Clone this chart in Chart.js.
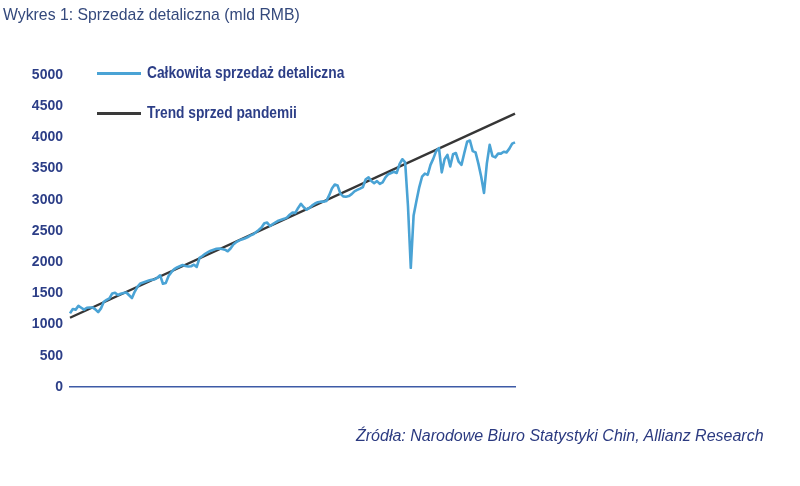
<!DOCTYPE html>
<html lang="pl">
<head>
<meta charset="utf-8">
<title>Sprzedaż detaliczna</title>
<script src="https://cdn.jsdelivr.net/npm/chart.js@4/dist/chart.umd.min.js"></script>
<style>
  body { margin: 0; background: #fff; }
  #wrap { position: relative; width: 800px; height: 486px; overflow: hidden; }
  #chart { position: absolute; left: 0; top: 0; }
  .title {
    position: absolute; left: 3px; top: 5px;
    font: 17px "Liberation Sans", Arial, sans-serif;
    color: #34497c;
    transform: scaleX(0.93); transform-origin: left top; white-space: nowrap;
  }
  .legend { position: absolute; left: 97px; font: bold 16px "Liberation Sans", Arial, sans-serif; color: #2c3e87; white-space: nowrap; }
  .legend span.swatch { display: inline-block; width: 44px; height: 3px; vertical-align: middle; margin-right: 6px; }
  .legend span.txt { display: inline-block; transform: scaleX(0.86); transform-origin: left center; }
  .source {
    position: absolute; left: 356px; top: 427px;
    font: italic 16px "Liberation Sans", Arial, sans-serif;
    color: #2b3a80;
  }
</style>
</head>
<body>
<div id="wrap">
  <canvas id="chart" width="800" height="486"></canvas>
  <div class="title">Wykres 1: Sprzedaż detaliczna (mld RMB)</div>
  <div class="legend" style="top:64px"><span class="swatch" style="background:#4aa3d5"></span><span class="txt">Całkowita sprzedaż detaliczna</span></div>
  <div class="legend" style="top:104px"><span class="swatch" style="background:#3a3a3a"></span><span class="txt">Trend sprzed pandemii</span></div>
  <div class="source">Źródła: Narodowe Biuro Statystyki Chin, Allianz Research</div>
</div>
<script>
// monthly, Jan 2010 - Mar 2023
const months = [];
for (let y = 2010; y <= 2023; y++) {
  for (let m = 1; m <= 12; m++) {
    if (y === 2023 && m > 3) break;
    months.push(y + "-" + String(m).padStart(2, "0"));
  }
}

// mld RMB
const retailSales = [
  1180, 1250, 1240, 1300, 1270, 1240, 1270, 1275, 1275, 1245, 1200, 1260,
  1365, 1395, 1420, 1500, 1510, 1475, 1495, 1505, 1515, 1470, 1425, 1530,
  1610, 1660, 1675, 1690, 1705, 1718, 1724, 1750, 1790, 1655, 1665, 1780,
  1840, 1890, 1915, 1935, 1955, 1940, 1930, 1935, 1960, 1925, 2070, 2100,
  2135, 2160, 2185, 2200, 2215, 2220, 2210, 2200, 2175, 2220, 2285, 2320,
  2345, 2365, 2380, 2400, 2425, 2445, 2480, 2515, 2555, 2625, 2634, 2580,
  2610, 2640, 2665, 2680, 2695, 2715, 2760, 2795, 2790, 2870, 2935, 2880,
  2840, 2870, 2910, 2940, 2960, 2970, 2970, 2980, 3070, 3180, 3245, 3230,
  3100, 3055, 3050, 3060, 3090, 3135, 3158, 3180, 3205, 3330, 3360, 3300,
  3265, 3300, 3255, 3280, 3360, 3410, 3430, 3450, 3430, 3570, 3650, 3600,
  2900, 1910, 2750, 2980, 3200, 3370, 3420, 3400, 3560, 3660, 3780, 3830,
  3440, 3650, 3720, 3535, 3730, 3750, 3610, 3560, 3750, 3930, 3950, 3780,
  3760, 3580, 3370, 3110, 3580, 3880, 3700, 3680, 3740, 3740, 3770, 3760,
  3820, 3900, 3920
];

// straight pre-pandemic trend: start and end values
const trendStart = 1110;
const trendEnd = 4380;

const yTicks = [0, 500, 1000, 1500, 2000, 2500, 3000, 3500, 4000, 4500, 5000];

const navy = "#2c3e87";

new Chart(document.getElementById("chart"), {
  type: "line",
  data: {
    labels: months,
    datasets: [
      {
        label: "Całkowita sprzedaż detaliczna",
        data: retailSales,
        borderColor: "#4aa3d5",
        borderWidth: 2.6,
        pointRadius: 0,
        tension: 0,
        borderJoinStyle: "round",
        order: 1,
      },
      {
        label: "Trend sprzed pandemii",
        data: [
          { x: months[0], y: trendStart },
          { x: months[months.length - 1], y: trendEnd },
        ],
        borderColor: "#363636",
        borderWidth: 2.4,
        pointRadius: 0,
        order: 2,
      },
    ],
  },
  options: {
    responsive: false,
    animation: false,
    layout: { padding: { top: 75, bottom: 99, left: 0, right: 285 } },
    plugins: {
      legend: { display: false },
      tooltip: { enabled: false },
    },
    scales: {
      x: {
        offset: false,
        grid: { display: false, drawTicks: false },
        ticks: { display: false },
        border: { display: true, color: "#3d5aa6", width: 1.5 },
        afterFit: (s) => { s.height = 0; },
      },
      y: {
        min: 0,
        max: 5000,
        afterBuildTicks: (s) => { s.ticks = yTicks.map((v) => ({ value: v })); },
        grid: { display: false, drawTicks: false },
        border: { display: false },
        ticks: {
          padding: 7,
          color: navy,
          font: { family: "'Liberation Sans', Arial, sans-serif", size: 14, weight: "bold" },
          callback: (v) => String(v),
        },
        afterFit: (s) => { s.width = 70; },
      },
    },
  },
});
</script>
</body>
</html>
